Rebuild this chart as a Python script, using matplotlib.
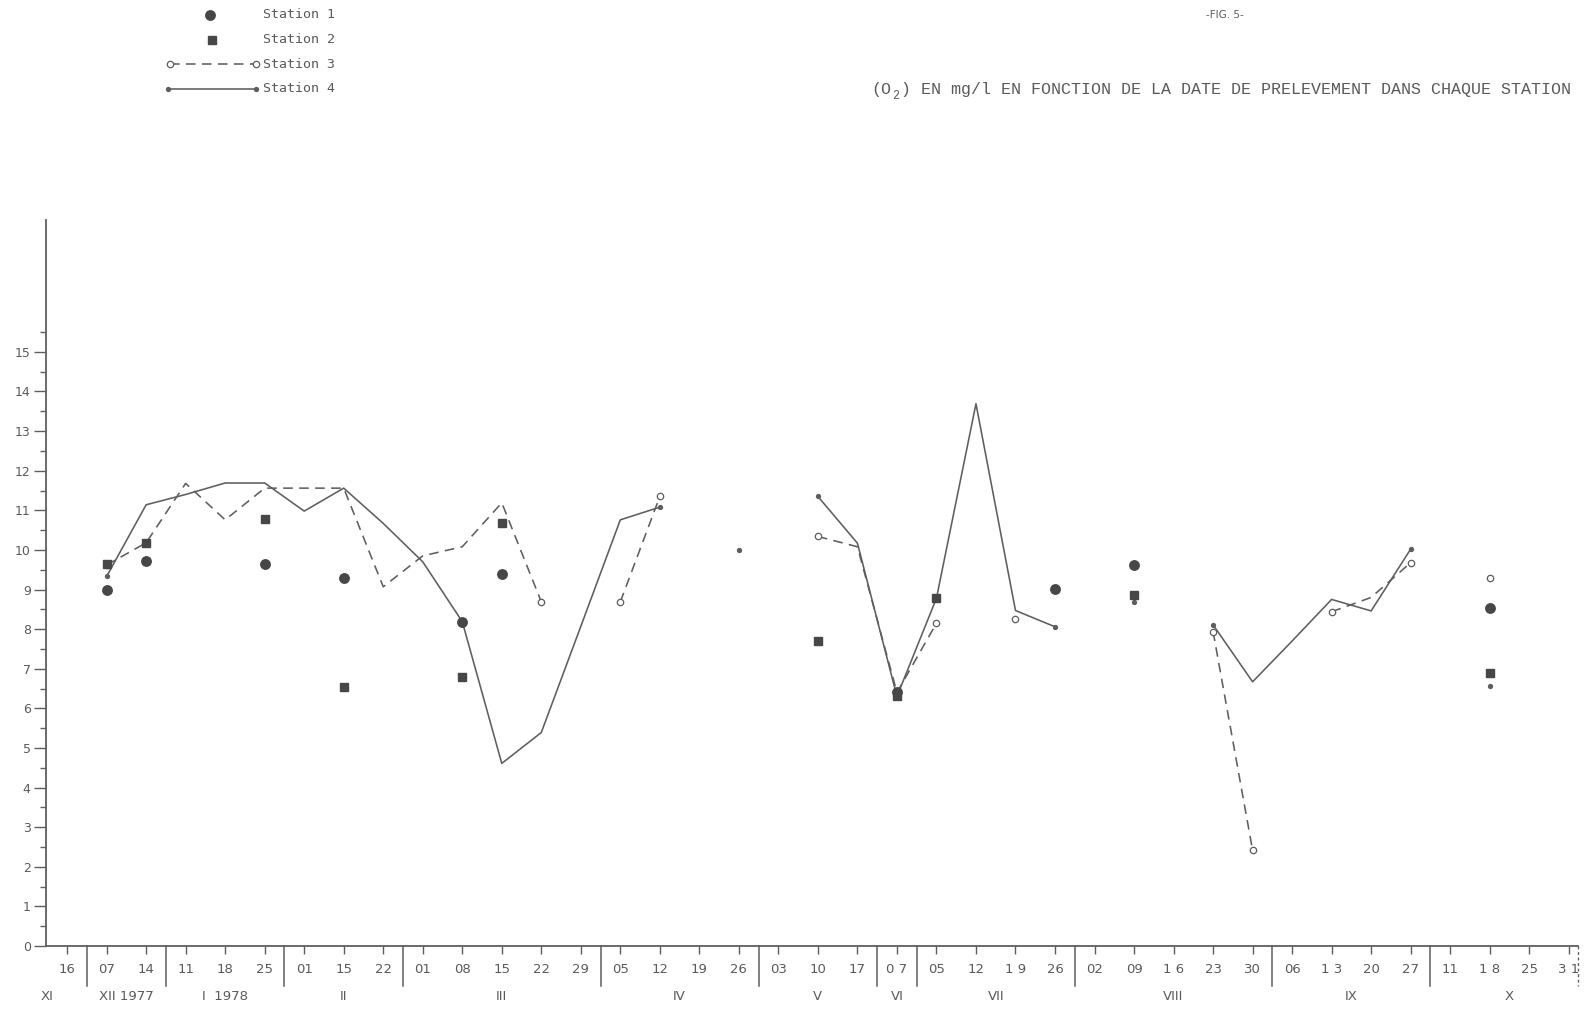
import numpy as np
import matplotlib
matplotlib.use("Agg")
import matplotlib.pyplot as plt
from matplotlib.lines import Line2D
from matplotlib import transforms

nan = np.nan

# Sampling dates (day of month) along the x axis, grouped by month
day_labels = ["16",
              "07", "14",
              "11", "18", "25",
              "01", "15", "22",
              "01", "08", "15", "22", "29",
              "05", "12", "19", "26",
              "03", "10", "17",
              "0 7",
              "05", "12", "1 9", "26",
              "02", "09", "1 6", "23", "30",
              "06", "1 3", "20", "27",
              "11", "1 8", "25", "3 1"]
month_labels = ["XI", "XII 1977", "I  1978", "II", "III", "IV", "V", "VI",
                "VII", "VIII", "IX", "X"]
month_counts = [1, 2, 3, 3, 5, 4, 3, 1, 4, 5, 4, 4]

# Dissolved oxygen (mg/l) per sampling date, NaN = no sample
station1 = [nan, 9.00, 9.72, nan, nan, 9.65, nan, 9.28, nan, nan,
            8.19, 9.39, nan, nan, nan, nan, nan, nan, nan, nan,
            nan, 6.42, nan, nan, nan, 9.01, nan, 9.63, nan, nan,
            nan, nan, nan, nan, nan, nan, 8.54, nan, nan]
station2 = [nan, 9.65, 10.18, nan, nan, 10.77, nan, 6.55, nan, nan,
            6.80, 10.69, nan, nan, nan, nan, nan, nan, nan, 7.70,
            nan, 6.32, 8.78, nan, nan, nan, nan, 8.86, nan, nan,
            nan, nan, nan, nan, nan, nan, 6.89, nan, nan]
station3 = [nan, 9.62, 10.18, 11.68, 10.76, 11.56, 11.56, 11.56, 9.07, 9.85,
            10.08, 11.19, 8.69, nan, 8.69, 11.35, nan, nan, nan, 10.34,
            10.08, 6.40, 8.15, nan, 8.25, nan, nan, 8.86, nan, 7.94,
            2.42, nan, 8.44, 8.80, 9.68, nan, 9.28, nan, nan]
station4 = [nan, 9.33, 11.14, 11.40, 11.69, 11.69, 10.98, 11.56, 10.67, 9.70,
            8.19, 4.61, 5.39, 8.07, 10.76, 11.08, nan, 10.00, nan, 11.35,
            10.17, 6.30, 8.78, 13.69, 8.47, 8.06, nan, 8.69, nan, 8.11,
            6.67, 7.70, 8.75, 8.46, 10.02, nan, 6.57, nan, nan]

series_names = ["Station 1", "Station 2", "Station 3", "Station 4"]
title_text = "-FIG. 5-"
subtitle_text = ") EN mg/l EN FONCTION DE LA DATE DE PRELEVEMENT DANS CHAQUE STATION"

INK = "#5e5e5e"
DARK = "#474747"
TXT = "#5a5a5a"
TICK_FONT = ["DejaVu Sans"]
MONO = ["DejaVu Sans Mono"]
TYPE = ["Liberation Mono", "DejaVu Sans Mono"]

W, H = 1585, 1017
fig = plt.figure(figsize=(W / 100, H / 100), dpi=100)
fig.patch.set_facecolor("white")
ax = fig.add_axes([46 / W, 1 - 946 / H, 1532 / W, 726 / H])

x = np.arange(len(day_labels))
ax.set_xlim(-0.534, 38.235)
ax.set_ylim(0, 18.33)


def run_ends(values):
    """Indices of points that start or end a connected run."""
    v = np.asarray(values, dtype=float)
    ok = ~np.isnan(v)
    prev = np.r_[False, ok[:-1]]
    nxt = np.r_[ok[1:], False]
    return list(np.where(ok & ~(prev & nxt))[0])


dash = (0, (6, 4))
ax.plot(x, station4, ls="-", lw=1.15, color=INK, marker="o", ms=2.8,
        mfc=INK, mec=INK, markevery=run_ends(station4), zorder=3)
ax.plot(x, station3, ls=dash, lw=1.15, color=INK, marker="o", ms=4.6,
        mfc="white", mec=INK, mew=0.9, markevery=run_ends(station3), zorder=3)
ax.plot(x, station1, ls="none", marker="o", ms=6.8, color=DARK, zorder=4)
ax.plot(x, station2, ls="none", marker="s", ms=5.6, color=DARK, zorder=4)

# axes frame: only left and bottom lines
for side in ("top", "right"):
    ax.spines[side].set_visible(False)
for side in ("left", "bottom"):
    ax.spines[side].set_color(INK)
    ax.spines[side].set_linewidth(1.3)

ax.set_xticks(x)
ax.set_xticklabels(day_labels, fontfamily=TICK_FONT, fontsize=9.5, color=TXT)
ax.tick_params(axis="x", length=6, width=1.0, color=INK, pad=6)

ax.set_yticks(np.arange(0, 16))
ax.set_yticklabels([str(v) for v in range(16)], fontfamily=TICK_FONT,
                   fontsize=9, color=TXT)
ax.set_yticks(np.arange(0.5, 16.0, 1.0), minor=True)
ax.tick_params(axis="y", which="major", length=9, width=1.0, color=INK, pad=2)
ax.tick_params(axis="y", which="minor", length=4.5, width=1.0, color=INK)

# month separators and month names under the day labels
bx = transforms.blended_transform_factory(ax.transData, ax.transAxes)
name_shift = {"XI": -0.5}
starts = np.cumsum([0] + month_counts[:-1])
for s, n, name in zip(starts, month_counts, month_labels):
    if s > 0:
        ax.plot([s - 0.5, s - 0.5], [0, -40 / 726], transform=bx, color=INK,
                lw=1.1, clip_on=False)
    center = s + (n - 1) / 2.0 + name_shift.get(name, 0.0)
    ax.text(center, -50 / 726, name, transform=bx, ha="center", va="center",
            fontfamily=TICK_FONT, fontsize=9.5, color=TXT)
ax.plot([38.235, 38.235], [0, -40 / 726], transform=bx, color=INK, lw=1.0,
        ls=(0, (2, 2)), clip_on=False)


def fx(px):
    return px / W


def fy(py):
    return 1 - py / H


# legend block, upper left
rows = [15, 39.5, 64, 89]
fig.add_artist(Line2D([fx(210)], [fy(rows[0])], marker="o", ms=6.8,
                      color=DARK, ls="none"))
fig.add_artist(Line2D([fx(212)], [fy(rows[1])], marker="s", ms=5.6,
                      color=DARK, ls="none"))
fig.add_artist(Line2D([fx(170), fx(256)], [fy(rows[2])] * 2, ls=dash,
                      lw=1.15, color=INK, marker="o", ms=4.6, mfc="white",
                      mec=INK, mew=0.9))
fig.add_artist(Line2D([fx(168), fx(256)], [fy(rows[3])] * 2, ls="-",
                      lw=1.15, color=INK, marker="o", ms=2.8, mfc=INK,
                      mec=INK))
for r, name in zip(rows, series_names):
    fig.text(fx(263), fy(r), name, ha="left", va="center",
             fontfamily=MONO, fontsize=9.5, color=TXT)

# figure number and caption
fig.text(fx(1225), fy(15), title_text, ha="center", va="center",
         fontfamily=TICK_FONT, fontsize=7.5, color=TXT)
fs = 12.0
cw = fs / 72 * 100 * 0.6
x0 = 871
fig.text(fx(x0), fy(94), "(O", ha="left", va="baseline", fontfamily=TYPE,
         fontsize=fs, color=TXT)
fig.text(fx(x0 + 2 * cw + 1), fy(99), "2", ha="left", va="baseline",
         fontfamily=TYPE, fontsize=8.5, color=TXT)
fig.text(fx(x0 + 3 * cw), fy(94), subtitle_text, ha="left", va="baseline",
         fontfamily=TYPE, fontsize=fs, color=TXT)

fig.savefig("out.png", dpi=100, facecolor="white")
